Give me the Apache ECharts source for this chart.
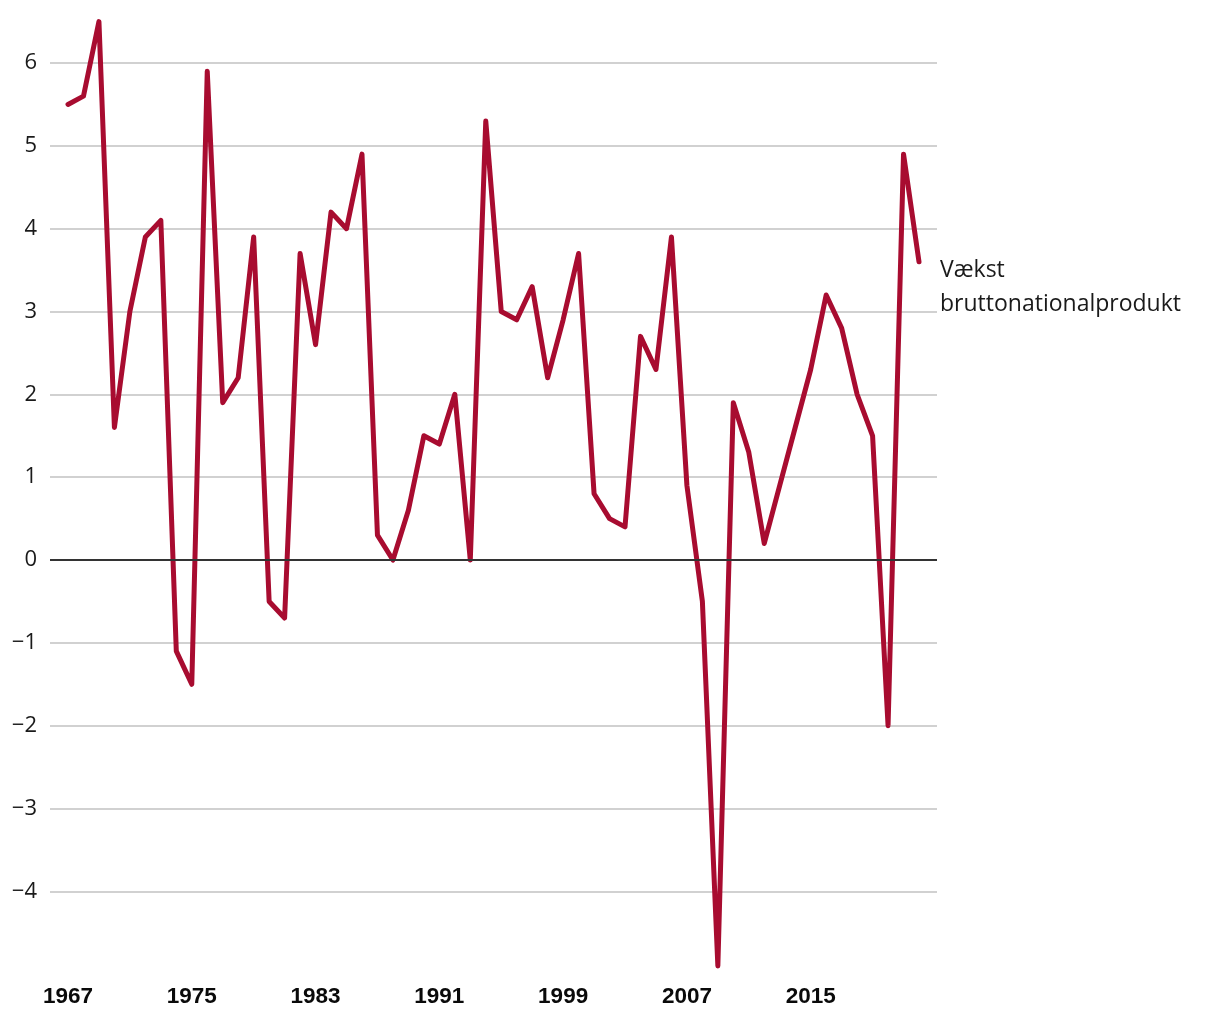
<!DOCTYPE html>
<html>
<head>
<meta charset="utf-8">
<script src="https://cdn.jsdelivr.net/npm/echarts@6/dist/echarts.min.js"></script>
<style>
html,body{margin:0;padding:0;background:#fff;}
#chart{width:1220px;height:1020px;}
</style>
</head>
<body>
<div id="chart"></div>
<script>
const years = [1967,1968,1969,1970,1971,1972,1973,1974,1975,1976,1977,1978,1979,1980,1981,1982,1983,1984,1985,1986,1987,1988,1989,1990,1991,1992,1993,1994,1995,1996,1997,1998,1999,2000,2001,2002,2003,2004,2005,2006,2007,2008,2009,2010,2011,2012,2013,2014,2015,2016,2017,2018,2019,2020,2021,2022];
const growth = [5.5,5.6,6.5,1.6,3.0,3.9,4.1,-1.1,-1.5,5.9,1.9,2.2,3.9,-0.5,-0.7,3.7,2.6,4.2,4.0,4.9,0.3,0.0,0.6,1.5,1.4,2.0,0.0,5.3,3.0,2.9,3.3,2.2,2.9,3.7,0.8,0.5,0.4,2.7,2.3,3.9,0.9,-0.5,-4.9,1.9,1.3,0.2,0.9,1.6,2.3,3.2,2.8,2.0,1.5,-2.0,4.9,3.6];
const xTickLabels = [1967,1975,1983,1991,1999,2007,2015];
const seriesName = "Vækst\nbruttonationalprodukt";

const chart = echarts.init(document.getElementById('chart'), null, {renderer:'canvas'});
chart.setOption({
  animation:false,
  backgroundColor:'#ffffff',
  grid:{left:50,right:283,top:21.6,bottom:45.8,containLabel:false},
  xAxis:{
    type:'value',
    min:1965.837, max:2023.163,
    splitLine:{show:false},
    axisLine:{show:false},
    axisTick:{show:false},
    axisLabel:{
      customValues:xTickLabels,
      formatter:v=>String(v),
      fontFamily:'Liberation Sans, Arial, sans-serif',
      fontWeight:'bold',
      fontSize:22.5,
      color:'#0a0a0a',
      margin:11
    }
  },
  yAxis:{
    type:'value',
    min:-5, max:6.5, interval:1,
    axisLine:{show:false},
    axisTick:{show:false},
    splitLine:{show:true,showMinLine:false,showMaxLine:false,lineStyle:{color:'#c2c2c2',width:1.5}},
    axisLabel:{
      showMinLabel:false,showMaxLabel:false,
      formatter:v=>Number.isInteger(v)?String(v).replace('-','\u2212'):'',
      fontFamily:'Open Sans, Noto Sans, sans-serif',
      fontSize:22,
      color:'#1a1a1a',
      margin:13
    }
  },
  series:[{
    type:'line',
    name:seriesName,
    data:years.map((y,i)=>[y,growth[i]]),
    showSymbol:false,
    symbol:'none',
    clip:false,
    lineStyle:{color:'#a80c30',width:5,join:'round',cap:'round'},
    endLabel:{
      show:true,
      formatter:seriesName,
      fontFamily:'Open Sans, Noto Sans, sans-serif',
      fontSize:23,
      lineHeight:34,
      color:'#1a1a1a',
      distance:21,
      offset:[0,26]
    },
    markLine:{
      silent:true,
      symbol:'none',
      label:{show:false},
      lineStyle:{color:'#333',width:1.8,type:'solid'},
      data:[{yAxis:0}]
    },
    z:3
  }]
});
</script>
</body>
</html>
